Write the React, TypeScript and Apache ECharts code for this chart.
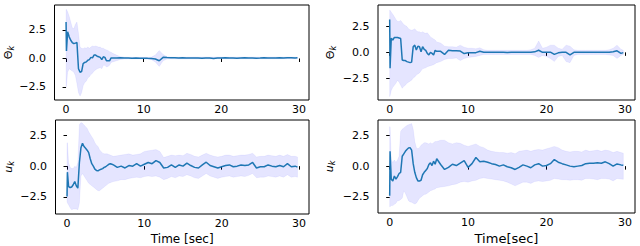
import React, { useEffect, useRef } from 'react';
import * as echarts from 'echarts';

// ---------- data ----------
const T = [
  0, 0.05, 0.2, 0.4, 0.6, 0.8, 1.0, 1.2, 1.4, 1.6,
  1.8, 2.0, 2.2, 2.4, 2.6, 2.8, 3.0, 3.2, 3.4, 3.6,
  3.8, 4.0, 4.2, 4.4, 4.6, 4.8, 5.0, 5.2, 5.4, 5.6,
  5.8, 6.0, 6.5, 7.0, 7.5, 8.0, 8.5, 9.0, 9.5, 10.0,
  10.5, 11.0, 11.5, 12.0, 12.5, 13.0, 13.5, 14.0, 14.5, 15.0,
  15.5, 16.0, 16.5, 17.0, 17.5, 18.0, 18.5, 19.0, 19.5, 20.0,
  20.5, 21.0, 21.5, 22.0, 22.5, 23.0, 23.5, 24.0, 24.5, 25.0,
  25.5, 26.0, 26.5, 27.0, 27.5, 28.0, 28.5, 29.0, 29.5, 29.8,
];

// left column, Θ_k
const thetaLeftMean = [
  3.2, 0.65, 2.35, 1.9, 1.6, 1.4, 1.3, 1.35, 1.4, -0.9,
  -1.2, -1.15, -0.45, -0.35, -0.3, -0.15, -0.1, 0.1, 0.05, 0.3,
  0.3, 0.2, 0.15, 0.1, -0.1, 0.15, 0.1, -0.2, -0.2, -0.2,
  0.05, 0.05, 0.05, 0.06, 0.04, 0.05, 0.03, 0.04, 0.02, 0.03,
  0.01, 0.0, -0.05, -0.2, 0.1, 0.08, 0.07, 0.06, 0.05, 0.06,
  0.05, 0.04, 0.05, 0.04, 0.03, 0.05, 0.04, 0.0, 0.04, 0.05,
  0.06, 0.05, 0.04, 0.03, 0.05, 0.06, 0.04, 0.05, 0.03, 0.04,
  0.06, 0.05, 0.04, 0.05, 0.06, 0.05, 0.07, 0.06, 0.05, 0.06,
];
const thetaLeftHigh = [
  4.3, 4.3, 4.1, 3.7, 3.2, 2.7, 2.6, 3.0, 3.2, 2.2,
  1.0, 0.9, 0.85, 0.95, 0.9, 1.0, 0.9, 1.0, 1.1, 1.05,
  1.1, 1.05, 1.0, 1.0, 0.9, 0.9, 0.8, 0.75, 0.7, 0.6,
  0.55, 0.45, 0.3, 0.16, 0.12, 0.11, 0.1, 0.1, 0.1, 0.1,
  0.1, 0.12, 0.3, 0.7, 0.35, 0.15, 0.13, 0.12, 0.12, 0.13,
  0.12, 0.12, 0.13, 0.12, 0.12, 0.13, 0.12, 0.12, 0.13, 0.12,
  0.13, 0.12, 0.12, 0.12, 0.13, 0.13, 0.12, 0.13, 0.12, 0.12,
  0.13, 0.13, 0.12, 0.13, 0.13, 0.12, 0.14, 0.13, 0.12, 0.13,
];
const thetaLeftLow = [
  -2.5, -2.4, -1.2, -0.9, -1.0, -1.1, -1.2, -1.5, -2.2, -3.0,
  -3.3, -3.0, -2.4, -2.1, -2.0, -1.7, -1.6, -1.4, -1.3, -1.1,
  -1.0, -0.9, -0.85, -0.8, -0.9, -0.6, -0.6, -0.75, -0.7, -0.6,
  -0.35, -0.3, -0.2, -0.08, -0.05, -0.04, -0.05, -0.04, -0.05, -0.05,
  -0.06, -0.1, -0.3, -0.7, -0.2, -0.05, -0.03, -0.03, -0.04, -0.03,
  -0.04, -0.03, -0.03, -0.04, -0.03, -0.03, -0.04, -0.05, -0.03, -0.03,
  -0.02, -0.03, -0.04, -0.04, -0.03, -0.02, -0.03, -0.03, -0.04, -0.03,
  -0.02, -0.03, -0.03, -0.03, -0.02, -0.03, -0.02, -0.02, -0.03, -0.02,
];

// right column, Θ_k
const thetaRightMean = [
  3.2, -1.55, 1.36, 1.2, 1.45, 1.45, 1.45, 1.4, 1.35, -0.75,
  -0.8, -0.8, -0.9, -0.95, -1.0, -0.95, 0.55, 0.7, 0.22, 0.6,
  0.55, 0.06, 0.55, 0.3, 0.2, -0.1, -0.25, 0.0, -0.1, -0.25,
  0.2, 0.1, 0.1, -0.2, 0.2, 0.15, 0.15, 0.12, -0.12, -0.05,
  -0.05, -0.03, 0.1, 0.0, 0.0, 0.02, 0.0, 0.01, 0.0, -0.01,
  0.02, 0.0, 0.01, 0.0, 0.02, 0.0, 0.05, 0.2, 0.0, 0.0,
  0.02, -0.2, -0.05, 0.0, 0.0, -0.25, 0.0, 0.01, 0.0, 0.02,
  0.0, 0.01, 0.0, 0.02, 0.01, 0.0, 0.05, 0.15, -0.1, -0.03,
];
const thetaRightHigh = [
  4.1, 4.1, 3.9, 3.7, 3.45, 3.2, 3.0, 3.0, 3.1, 2.9,
  2.7, 2.6, 2.5, 2.3, 2.2, 2.15, 2.2, 2.3, 2.1, 2.0,
  2.0, 1.9, 2.0, 1.9, 1.85, 1.9, 1.7, 1.5, 1.4, 1.3,
  1.2, 1.0, 0.9, 0.6, 0.55, 0.55, 0.5, 0.7, 0.5, 0.4,
  0.4, 0.35, 0.45, 0.25, 0.2, 0.2, 0.2, 0.2, 0.2, 0.2,
  0.2, 0.2, 0.2, 0.2, 0.2, 0.25, 0.4, 1.1, 0.4, 0.5,
  0.7, 0.7, 0.4, 0.3, 0.7, 0.6, 0.25, 0.2, 0.2, 0.2,
  0.2, 0.2, 0.2, 0.2, 0.2, 0.25, 0.4, 0.7, 0.3, 0.2,
];
const thetaRightLow = [
  -4.3, -4.2, -3.7, -3.4, -3.2, -3.0, -2.7, -2.9, -3.2, -3.5,
  -3.3, -3.2, -3.0, -2.9, -2.8, -2.7, -2.5, -2.4, -2.2, -2.1,
  -2.0, -1.8, -1.6, -1.55, -1.5, -1.4, -1.35, -1.3, -1.25, -1.2,
  -1.1, -1.0, -0.9, -0.7, -0.6, -0.6, -0.55, -0.8, -0.6, -0.5,
  -0.45, -0.4, -0.3, -0.2, -0.2, -0.2, -0.2, -0.2, -0.2, -0.2,
  -0.2, -0.2, -0.2, -0.2, -0.2, -0.2, -0.3, -0.5, -0.3, -0.4,
  -0.6, -0.9, -0.4, -0.3, -0.9, -1.0, -0.3, -0.2, -0.2, -0.2,
  -0.2, -0.2, -0.2, -0.2, -0.2, -0.25, -0.3, -0.6, -0.3, -0.2,
];

// left column, u_k
const uLeftMean = [
  -2.47, -0.49, -1.66, -1.74, -1.7, -1.52, -1.25, -1.6, -1.79, 0.3,
  1.5, 1.87, 1.6, 1.45, 1.3, 1.1, 0.6, 0.2, 0.0, -0.25,
  -0.35, -0.38, -0.3, -0.25, -0.2, -0.1, -0.05, 0.05, 0.15, 0.2,
  0.15, 0.1, -0.1, 0.0, -0.15, 0.05, 0.0, 0.2, 0.0, 0.15,
  0.3, 0.2, 0.45, 0.3, -0.15, -0.1, 0.1, -0.1, 0.1, 0.0,
  0.24, 0.05, -0.1, -0.15, 0.1, 0.32, 0.05, -0.05, -0.15, -0.05,
  0.05, 0.1, -0.05, 0.0, 0.1, 0.05, 0.1, 0.3, -0.15, -0.05,
  -0.05, 0.1, 0.0, -0.05, 0.05, -0.05, 0.2, -0.05, 0.0, -0.08,
];
const uLeftHigh = [
  1.9, 1.9, 0.3, -0.1, -0.2, -0.2, 0.0, -0.1, 0.3, 3.4,
  3.55, 3.5, 3.36, 3.2, 3.09, 2.8, 2.6, 2.4, 2.2, 1.9,
  1.73, 1.6, 1.33, 1.2, 1.06, 1.0, 1.0, 1.0, 0.95, 0.9,
  0.85, 0.8, 0.85, 0.9, 0.95, 1.0, 0.9, 0.95, 1.0, 1.2,
  1.25, 1.3, 1.35, 1.2, 0.7, 0.8, 0.9, 0.85, 0.9, 0.85,
  1.05, 0.95, 0.8, 0.75, 0.9, 1.05, 0.9, 0.8, 0.75, 0.8,
  0.9, 0.9, 0.8, 0.85, 0.9, 0.9, 0.95, 1.05, 0.75, 0.8,
  0.8, 0.9, 0.85, 0.8, 0.9, 0.8, 0.95, 0.8, 0.8, 0.75,
];
const uLeftLow = [
  -2.9, -3.0, -3.15, -3.4, -3.55, -3.5, -3.5, -3.5, -3.55, -3.0,
  -0.8, -0.6, -0.8, -1.0, -1.2, -1.4, -1.5, -1.6, -1.7, -1.8,
  -1.9, -2.0, -2.0, -1.9, -1.8, -1.7, -1.6, -1.5, -1.4, -1.35,
  -1.3, -1.25, -1.2, -1.1, -1.1, -1.0, -0.95, -0.9, -0.95, -0.85,
  -0.8, -0.85, -0.8, -0.9, -1.1, -1.0, -0.85, -0.95, -0.8, -0.85,
  -0.7, -0.8, -0.95, -1.0, -0.8, -0.6, -0.8, -0.9, -1.0, -0.9,
  -0.85, -0.8, -0.9, -0.85, -0.8, -0.85, -0.75, -0.6, -0.95, -0.9,
  -0.9, -0.8, -0.85, -0.9, -0.8, -0.9, -0.7, -0.9, -0.85, -0.9,
];

// right column, u_k
const uRightMean = [
  -2.4, 1.2, -1.06, -1.2, -0.8, -1.05, -0.85, -0.6, -0.5, 0.8,
  1.0, 1.2, 1.35, 1.47, 1.5, 1.3, 0.2, -0.5, -0.93, -1.2,
  -1.2, -1.15, -0.7, -0.5, -0.35, -0.2, 0.13, 0.27, 0.05, 0.4,
  0.15, 0.6, 0.13, -0.27, -0.1, 0.15, 0.05, 0.25, 0.45, -0.1,
  0.2, 0.7, 0.35, 0.4, 0.32, 0.2, 0.13, 0.0, 0.1, -0.05,
  -0.13, -0.27, -0.1, 0.1, 0.0, -0.13, 0.1, 0.2, 0.0, 0.05,
  0.2, 0.53, 0.32, 0.2, 0.1, 0.0, -0.05, 0.0, 0.05, 0.2,
  0.24, 0.24, 0.28, 0.24, 0.35, 0.2, 0.0, 0.18, 0.1, 0.08,
];
const uRightHigh = [
  3.2, 3.2, 0.5, 0.3, 0.5, 0.3, 0.5, 0.8, 2.8, 3.0,
  3.1, 3.2, 3.3, 3.35, 3.4, 3.45, 3.0, 2.0, 1.5, 1.4,
  1.5, 1.7, 1.8, 1.9, 1.9, 1.85, 1.8, 1.9, 1.8, 1.9,
  2.0, 2.0, 2.1, 2.1, 1.9, 1.8, 1.9, 1.85, 1.7, 1.6,
  1.7, 1.8, 1.6, 1.5, 1.3, 1.2, 1.15, 1.1, 1.1, 1.05,
  1.1, 1.0, 1.2, 1.25, 1.3, 1.2, 1.3, 1.35, 1.3, 1.4,
  1.5, 1.6, 1.5, 1.3, 1.2, 1.15, 1.2, 1.2, 1.15, 1.3,
  1.2, 1.25, 1.3, 1.2, 1.3, 1.25, 1.1, 1.2, 1.1, 1.05,
];
const uRightLow = [
  -3.3, -3.3, -3.2, -3.2, -3.1, -3.0, -2.8, -2.8, -2.7, -2.6,
  -2.0, -2.2, -2.5, -2.8, -2.9, -2.93, -3.0, -3.07, -3.0, -2.8,
  -2.6, -2.5, -2.4, -2.3, -2.27, -2.2, -2.1, -2.0, -1.95, -1.9,
  -1.85, -1.75, -1.7, -1.65, -1.6, -1.5, -1.45, -1.3, -1.25, -1.3,
  -1.2, -1.15, -1.0, -0.95, -1.0, -1.05, -1.1, -1.15, -1.2, -1.3,
  -1.45, -1.6, -1.45, -1.3, -1.3, -1.4, -1.25, -1.2, -1.25, -1.2,
  -1.15, -1.0, -1.05, -1.1, -1.1, -1.15, -1.1, -1.1, -1.15, -1.0,
  -1.0, -1.05, -1.1, -1.0, -1.0, -1.05, -1.2, -1.0, -1.05, -1.07,
];

const X_TICKS = [0, 10, 20, 30];
const Y_TICKS = [-2.5, 0, 2.5];
const X_LABEL_LEFT = 'Time [sec]';
const X_LABEL_RIGHT = 'Time[sec]';

// ---------- layout / styling ----------
const FONT = 'DejaVu Sans';
const LINE_COLOR = '#1f77b4';
const BAND_COLOR = 'rgba(0,0,255,0.1)';

type Panel = {
  grid: { left: number; top: number; width: number; height: number };
  yMin: number;
  yMax: number;
  yName: string;
  italic: boolean;
  nameGap: number;
  xName: string;
  xNameSize: number;
  mean: number[];
  lo: number[];
  hi: number[];
};

const panels: Panel[] = [
  { grid: { left: 53, top: 5, width: 256, height: 95 }, yMin: -3.64, yMax: 4.69,
    yName: '{a|Θ}{b|k}', italic: false, nameGap: 40, xName: '', xNameSize: 12,
    mean: thetaLeftMean, lo: thetaLeftLow, hi: thetaLeftHigh },
  { grid: { left: 53, top: 120, width: 256, height: 94 }, yMin: -3.9, yMax: 3.76,
    yName: '{a|u}{b|k}', italic: true, nameGap: 41, xName: X_LABEL_LEFT, xNameSize: 12,
    mean: uLeftMean, lo: uLeftLow, hi: uLeftHigh },
  { grid: { left: 378, top: 5, width: 257, height: 95 }, yMin: -4.63, yMax: 4.6,
    yName: '{a|Θ}{b|k}', italic: false, nameGap: 41, xName: '', xNameSize: 13,
    mean: thetaRightMean, lo: thetaRightLow, hi: thetaRightHigh },
  { grid: { left: 378, top: 120, width: 257, height: 94 }, yMin: -3.8, yMax: 3.74,
    yName: '{a|u}{b|k}', italic: true, nameGap: 42, xName: X_LABEL_RIGHT, xNameSize: 13,
    mean: uRightMean, lo: uRightLow, hi: uRightHigh },
];

const fmt = (v: number) => (v < 0 ? '\u2212' : '') + Math.abs(v).toFixed(1);

function bandRenderer(lo: number[], hi: number[]) {
  return (params: any, api: any) => {
    const pts: number[][] = [];
    for (let k = 0; k < T.length; k++) pts.push(api.coord([T[k], hi[k]]));
    for (let k = T.length - 1; k >= 0; k--) pts.push(api.coord([T[k], lo[k]]));
    return {
      type: 'polygon',
      shape: { points: pts },
      style: { fill: BAND_COLOR, stroke: BAND_COLOR, lineWidth: 0.5 },
      silent: true,
    };
  };
}

function buildOption() {
  const grid = panels.map((p) => ({
    ...p.grid,
    show: true,
    borderColor: '#000',
    borderWidth: 1,
    containLabel: false,
  }));

  const xAxis = panels.map((p, i) => ({
    type: 'value',
    gridIndex: i,
    min: -1.49,
    max: 31.29,
    name: p.xName,
    nameLocation: 'middle',
    nameGap: 19,
    nameTextStyle: { fontFamily: FONT, fontSize: p.xNameSize, color: '#000' },
    axisLine: { show: false },
    splitLine: { show: false },
    axisTick: { show: true, length: 3.5, customValues: X_TICKS, lineStyle: { color: '#000', width: 1 } },
    axisLabel: {
      customValues: X_TICKS,
      margin: 4,
      fontFamily: FONT,
      fontSize: 11,
      color: '#000',
      formatter: (v: number) => String(v),
    },
  }));

  const yAxis = panels.map((p, i) => ({
    type: 'value',
    gridIndex: i,
    min: p.yMin,
    max: p.yMax,
    name: p.yName,
    nameLocation: 'middle',
    nameRotate: 90,
    nameGap: p.nameGap,
    nameTextStyle: {
      color: '#000',
      rich: {
        a: { fontFamily: FONT, fontSize: 11, fontStyle: p.italic ? 'italic' : 'normal', lineHeight: 13, color: '#000' },
        b: { fontFamily: FONT, fontSize: 8, fontStyle: 'italic', lineHeight: 9, padding: [6, 0, 0, 0], color: '#000' },
      },
    },
    axisLine: { show: false },
    splitLine: { show: false },
    axisTick: { show: true, length: 3.5, customValues: Y_TICKS, lineStyle: { color: '#000', width: 1 } },
    axisLabel: {
      customValues: Y_TICKS,
      margin: 8.5,
      fontFamily: FONT,
      fontSize: 11,
      color: '#000',
      formatter: fmt,
    },
  }));

  const series: any[] = [];
  panels.forEach((p, i) => {
    series.push({
      type: 'custom',
      xAxisIndex: i,
      yAxisIndex: i,
      data: [[T[0], p.mean[0]]],
      renderItem: bandRenderer(p.lo, p.hi),
      clip: true,
      silent: true,
      z: 1,
    });
    series.push({
      type: 'line',
      xAxisIndex: i,
      yAxisIndex: i,
      data: T.map((t, k) => [t, p.mean[k]]),
      symbol: 'none',
      silent: true,
      lineStyle: { color: LINE_COLOR, width: 1.5 },
      z: 3,
    });
  });

  return {
    animation: false,
    backgroundColor: '#fff',
    grid,
    xAxis,
    yAxis,
    series,
  };
}

export default function App() {
  const ref = useRef<HTMLDivElement>(null);
  useEffect(() => {
    if (!ref.current) return;
    const chart = echarts.init(ref.current, null, { renderer: 'svg' });
    chart.setOption(buildOption() as any);
    return () => chart.dispose();
  }, []);
  return (
    <div
      ref={ref}
      style={{ position: 'fixed', left: 0, top: 0, width: 640, height: 246, background: '#fff' }}
    />
  );
}
